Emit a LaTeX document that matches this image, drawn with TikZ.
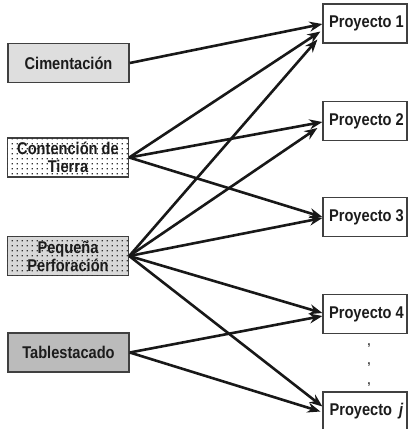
\documentclass[tikz,border=0pt]{standalone}
\usepackage{fontspec}
\setmainfont{Liberation Sans}[FakeStretch=0.86]
\usetikzlibrary{arrows.meta,patterns.meta}
\definecolor{boxc}{HTML}{404040}
\definecolor{txt}{HTML}{1C1C1C}
\definecolor{arrc}{HTML}{181818}
\definecolor{cimc}{HTML}{DEDEDE}
\definecolor{peqc}{HTML}{D8D8D8}
\definecolor{tabc}{HTML}{BBBBBB}
\definecolor{dotc}{HTML}{333333}
\tikzdeclarepattern{
  name=sqdots,
  type=uncolored,
  bounding box={(0bp,0bp) and (5.4bp,5.4bp)},
  tile size={(5.4bp,5.4bp)},
  code={\fill (1.8bp,1.8bp) rectangle (3.1bp,3.1bp);}
}
\tikzset{
  lbox/.style={draw=boxc, line width=1.5bp, minimum width=121bp, minimum height=39bp,
    inner sep=0pt, font=\fontsize{17bp}{18bp}\selectfont\bfseries, text=txt, align=center},
  rbox/.style={draw=boxc, line width=1.2bp, fill=white, minimum width=84bp, minimum height=39bp,
    inner sep=0pt, font=\fontsize{17bp}{18bp}\selectfont\bfseries, text=txt},
  dotted box/.style={postaction={pattern=sqdots, pattern color=dotc}},
  conn/.style={line width=2.6bp, draw=arrc, -{Stealth[length=13bp,width=10bp]}},
  sep/.style={font=\fontsize{12bp}{12bp}\selectfont\bfseries, text=txt, inner sep=0pt}
}
\begin{document}
\begin{tikzpicture}[x=1bp,y=-1bp]
\useasboundingbox (0,0) rectangle (416,429);
% left boxes
\node[lbox, fill=cimc] (cim) at (68.5,63) {Cimentación};
\node[lbox, fill=white, dotted box] (con) at (68,157.5) {Contención de\\Tierra};
\node[lbox, fill=peqc, dotted box] (peq) at (68,256) {Pequeña\\Perforación};
\node[lbox, fill=tabc] (tab) at (68.5,352.5) {Tablestacado};
% right boxes
\node[rbox] (p1) at (365,23.5) {\hspace{3bp}Proyecto 1};
\node[rbox] (p2) at (365,121) {\hspace{3bp}Proyecto 2};
\node[rbox] (p3) at (365,217) {\hspace{3bp}Proyecto 3};
\node[rbox] (p4) at (365,314) {\hspace{3bp}Proyecto 4};
\node[rbox] (pj) at (365,411.5) {\hspace{3bp}Proyecto \,\textit{j}};
% separators
\node[sep] (d1) at (369,346) {,};
\node[sep] (d2) at (369,365) {,};
\node[sep] (d3) at (369,385) {,};
% connectors
\draw[conn] (cim.east) -- ([yshift=-0.5bp]p1.west);
\draw[conn] (con.east) -- ([xshift=-2bp,yshift=-8bp]p1.west);
\draw[conn] (peq.east) -- ([xshift=-5bp,yshift=-16bp]p1.west);
\draw[conn] (con.east) -- ([yshift=-1bp]p2.west);
\draw[conn] (peq.east) -- ([xshift=-5bp,yshift=-7bp]p2.west);
\draw[conn] (con.east) -- (p3.west);
\draw[conn] (peq.east) -- ([yshift=-1bp]p3.west);
\draw[conn] (peq.east) -- ([yshift=1bp]p4.west);
\draw[conn] (tab.east) -- ([yshift=-2bp]p4.west);
\draw[conn] (peq.east) -- ([yshift=5bp]pj.west);
\draw[conn] (tab.east) -- ([xshift=-2bp]pj.west);
\end{tikzpicture}
\end{document}
